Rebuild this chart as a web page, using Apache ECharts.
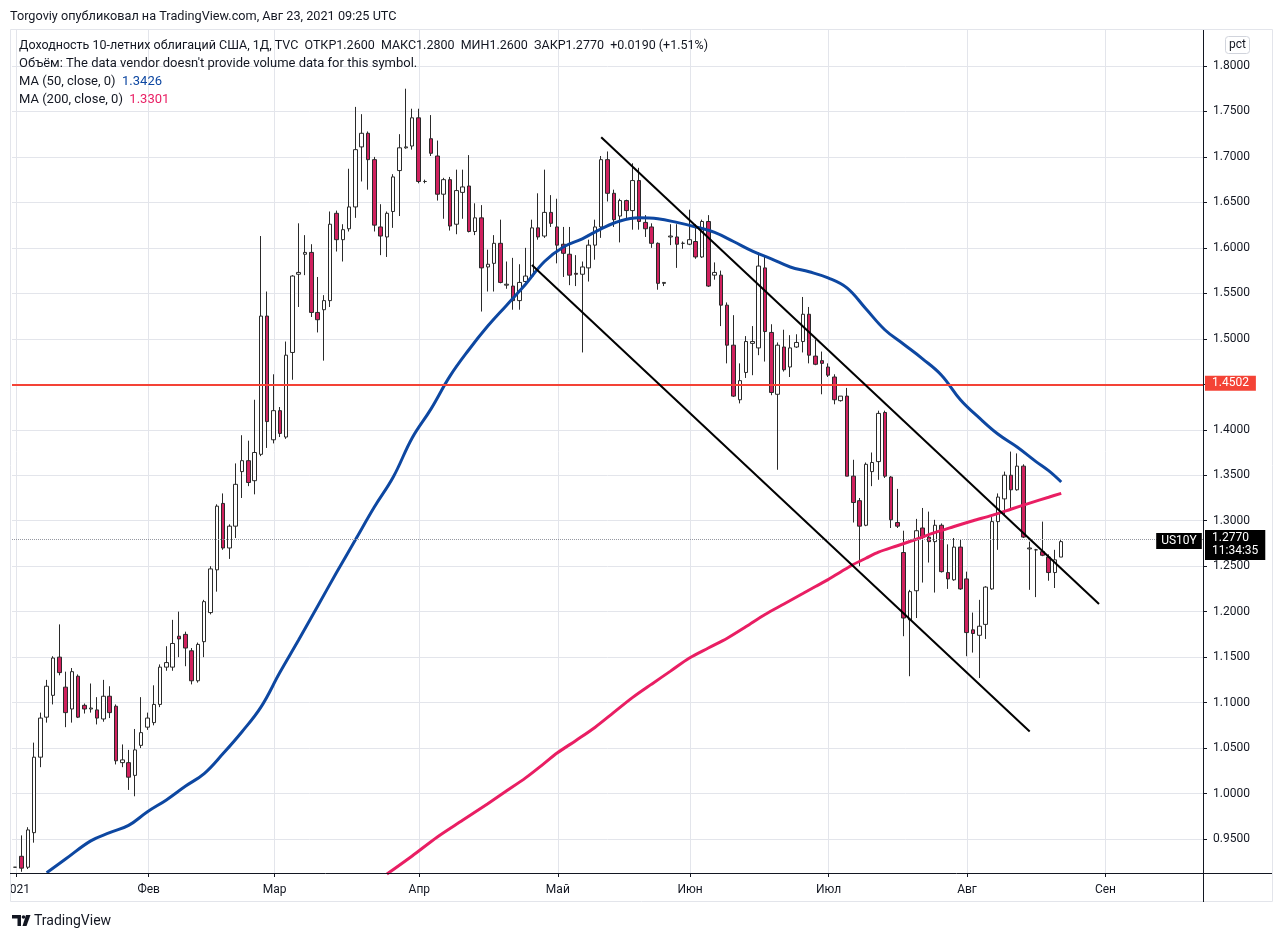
<!DOCTYPE html>
<html><head><meta charset="utf-8">
<script src="https://cdn.jsdelivr.net/npm/echarts@6/dist/echarts.min.js"></script>
<style>html,body{margin:0;padding:0;background:#fff}#c{width:1280px;height:940px}</style>
</head><body><div id="c"></div>
<script>
// ---- DATA ----
// daily candles from 2021-01-01 (weekdays): [open, high, low, close]
const candles = [
[0.919,0.919,0.919,0.919],[0.931,0.954,0.914,0.918],[0.919,0.963,0.917,0.960],[0.957,1.056,0.946,1.040],
[1.040,1.089,1.029,1.083],[1.084,1.125,1.078,1.118],[1.108,1.151,1.098,1.149],[1.150,1.186,1.130,1.133],
[1.117,1.134,1.073,1.089],[1.093,1.138,1.078,1.134],[1.129,1.131,1.083,1.084],[1.097,1.099,1.088,1.093],
[1.093,1.121,1.089,1.094],[1.092,1.106,1.076,1.083],[1.082,1.125,1.079,1.107],[1.107,1.118,1.083,1.089],
[1.096,1.098,1.032,1.036],[1.034,1.054,1.029,1.037],[1.034,1.048,1.004,1.018],[1.020,1.071,0.997,1.048],
[1.053,1.106,1.050,1.067],
[1.073,1.089,1.070,1.083],[1.078,1.119,1.075,1.098],[1.098,1.142,1.095,1.139],[1.139,1.162,1.135,1.144],
[1.139,1.191,1.135,1.165],[1.173,1.200,1.150,1.170],[1.175,1.178,1.140,1.160],[1.157,1.160,1.120,1.124],
[1.124,1.166,1.122,1.164],[1.167,1.213,1.150,1.211],[1.199,1.250,1.197,1.247],[1.246,1.318,1.222,1.316],
[1.319,1.330,1.268,1.270],[1.270,1.296,1.258,1.294],[1.294,1.363,1.281,1.340],[1.354,1.394,1.325,1.366],
[1.366,1.388,1.338,1.342],[1.344,1.433,1.329,1.375],[1.373,1.613,1.371,1.525],[1.525,1.552,1.380,1.409],
[1.389,1.461,1.385,1.421],[1.421,1.425,1.392,1.396],[1.392,1.497,1.390,1.482],[1.485,1.570,1.455,1.569],
[1.571,1.627,1.535,1.573],[1.593,1.614,1.570,1.595],[1.595,1.604,1.524,1.529],[1.529,1.568,1.507,1.521],
[1.532,1.548,1.476,1.542],[1.542,1.640,1.535,1.626],[1.638,1.641,1.596,1.609],[1.609,1.626,1.585,1.620],
[1.621,1.687,1.618,1.645],[1.645,1.755,1.633,1.708],[1.711,1.747,1.673,1.726],[1.726,1.728,1.664,1.697],
[1.697,1.700,1.618,1.625],[1.623,1.648,1.592,1.613],[1.612,1.640,1.590,1.638],[1.640,1.681,1.622,1.678],
[1.685,1.725,1.635,1.710],[1.710,1.775,1.709,1.711],[1.712,1.753,1.708,1.743],
[1.743,1.753,1.671,1.673],[1.673,1.675,1.671,1.673],[1.720,1.746,1.701,1.704],[1.701,1.718,1.652,1.659],
[1.659,1.677,1.632,1.675],[1.675,1.678,1.619,1.624],[1.626,1.686,1.615,1.663],[1.661,1.686,1.632,1.667],
[1.668,1.702,1.617,1.618],[1.618,1.649,1.614,1.633],[1.633,1.647,1.530,1.578],[1.579,1.598,1.552,1.582],
[1.583,1.614,1.552,1.605],[1.605,1.631,1.561,1.562],[1.559,1.585,1.555,1.560],[1.558,1.589,1.532,1.542],
[1.542,1.582,1.532,1.562],[1.563,1.600,1.558,1.569],[1.569,1.631,1.567,1.622],[1.622,1.660,1.609,1.612],
[1.613,1.686,1.611,1.639],[1.639,1.658,1.623,1.627],
[1.623,1.654,1.583,1.603],[1.604,1.623,1.568,1.594],[1.593,1.623,1.559,1.570],[1.572,1.592,1.558,1.571],
[1.571,1.585,1.485,1.579],[1.578,1.609,1.563,1.603],[1.603,1.631,1.587,1.623],[1.623,1.701,1.611,1.697],
[1.697,1.706,1.651,1.660],[1.660,1.664,1.623,1.631],[1.635,1.654,1.606,1.652],[1.652,1.653,1.631,1.641],
[1.641,1.693,1.620,1.674],[1.674,1.688,1.620,1.629],[1.628,1.636,1.612,1.621],[1.623,1.627,1.600,1.605],
[1.605,1.606,1.554,1.561],[1.561,1.562,1.558,1.562],[1.612,1.626,1.603,1.613],[1.612,1.626,1.578,1.604],
[1.605,1.607,1.599,1.605],
[1.604,1.642,1.603,1.609],[1.607,1.626,1.588,1.590],[1.590,1.631,1.589,1.629],[1.629,1.636,1.557,1.558],
[1.570,1.584,1.565,1.573],[1.570,1.575,1.514,1.537],[1.537,1.540,1.473,1.493],[1.493,1.526,1.436,1.437],
[1.433,1.473,1.429,1.454],[1.463,1.503,1.457,1.497],[1.495,1.514,1.460,1.497],[1.490,1.595,1.482,1.580],
[1.578,1.592,1.475,1.508],[1.507,1.516,1.438,1.441],[1.439,1.496,1.356,1.493],[1.491,1.510,1.464,1.466],
[1.469,1.504,1.458,1.490],[1.491,1.505,1.490,1.496],[1.497,1.546,1.485,1.527],[1.527,1.535,1.473,1.482],
[1.481,1.499,1.471,1.472],[1.476,1.486,1.439,1.473],
[1.469,1.473,1.458,1.460],[1.458,1.461,1.428,1.433],[1.432,1.437,1.431,1.437],[1.437,1.446,1.349,1.349],
[1.349,1.367,1.298,1.320],[1.322,1.325,1.250,1.294],[1.295,1.364,1.294,1.362],[1.354,1.375,1.338,1.364],
[1.365,1.421,1.345,1.418],[1.419,1.421,1.347,1.349],[1.348,1.349,1.292,1.301],[1.298,1.335,1.292,1.294],
[1.265,1.289,1.173,1.193],[1.191,1.224,1.129,1.222],[1.223,1.302,1.193,1.289],[1.292,1.314,1.232,1.282],
[1.282,1.310,1.254,1.277],[1.277,1.301,1.221,1.295],[1.295,1.297,1.243,1.244],[1.243,1.274,1.225,1.236],
[1.235,1.281,1.234,1.271],[1.271,1.279,1.224,1.225],
[1.236,1.244,1.151,1.177],[1.180,1.199,1.155,1.176],[1.174,1.213,1.127,1.184],[1.186,1.228,1.170,1.227],
[1.225,1.304,1.224,1.299],[1.299,1.330,1.268,1.326],[1.324,1.354,1.307,1.350],[1.350,1.376,1.313,1.334],
[1.334,1.374,1.333,1.360],[1.360,1.362,1.281,1.282],[1.269,1.277,1.224,1.270],[1.268,1.269,1.216,1.268],
[1.266,1.299,1.261,1.262],[1.260,1.263,1.234,1.243],[1.243,1.268,1.226,1.257],[1.260,1.280,1.260,1.277]
];
// moving averages: [bar index, value]
const ma50Pts = [[5,0.913],[8,0.928],[12,0.948],[15,0.957],[18,0.965],[21,0.980],[24,0.993],[27,1.008],
[30,1.022],[33,1.044],[36,1.068],[39,1.095],[42,1.133],[45,1.169],[48,1.206],[51,1.243],[54,1.279],
[57,1.315],[60,1.348],[63,1.391],[66,1.423],[69,1.459],[72,1.488],[75,1.514],[78,1.537],[81,1.560],
[84,1.585],[87,1.601],[90,1.610],[93,1.621],[96,1.6295],[99,1.633],[102,1.632],[105,1.628],[108,1.623],
[111,1.617],[114,1.607],[117,1.5965],[120,1.588],[123,1.579],[126,1.5737],[129,1.567],[132,1.556],
[135,1.533],[138,1.510],[141,1.494],[144,1.478],[147,1.460],[150,1.433],[153,1.413],[156,1.395],
[159,1.381],[162,1.365],[164,1.355],[166,1.3426]];
const ma200Pts = [[59,0.9115],[63,0.9314],[67,0.9523],[71,0.9706],[75,0.9889],[78,1.003],[81,1.0172],
[84,1.0334],[86,1.0445],[89,1.0584],[92,1.0727],[95,1.0892],[98,1.1057],[101,1.1203],[104,1.1346],
[107,1.149],[110,1.160],[113,1.1708],[116,1.1836],[119,1.1969],[122,1.2084],[125,1.2199],[127,1.2276],
[129,1.2352],[131,1.2437],[133,1.2519],[135,1.2587],[137,1.2654],[140,1.2725],[143,1.2796],[146,1.2871],
[149,1.2936],[152,1.3000],[155,1.3059],[158,1.3126],[161,1.3194],[164,1.3258],[166,1.3301]];
const channelUpper = [[93,1.7217],[172,1.2084]];
const channelLower = [[82,1.5812],[161,1.0683]];
const levelLine = 1.4502;
const lastClose = 1.2770;
const ma50Last = 1.3426, ma200Last = 1.3301;
const monthLabels = ['2021','Фев','Мар','Апр','Май','Июн','Июл','Авг','Сен','Окт','Ноя','Дек'];
const yMin = 0.90, yMax = 1.85, yStep = 0.05;

// ---- categories: weekdays from 2021-01-01 ----
const dates = [];
(function(){const d=new Date(Date.UTC(2021,0,1));while(dates.length<189){const w=d.getUTCDay();if(w!==0&&w!==6)dates.push(d.toISOString().slice(0,10));d.setUTCDate(d.getUTCDate()+1);}})();
const monthStart = new Set();
dates.forEach((s,i)=>{if(i===0||s.slice(5,7)!==dates[i-1].slice(5,7))monthStart.add(i);});
const isMonth = (i)=>monthStart.has(i);

const FONT = 'Roboto, "Noto Sans", sans-serif';
const TXT = '#131722';
const GRID = '#e3e5eb';
const BLUE = '#0d47a1', PINK = '#e91e63', RED = '#f44336', DOWN = '#d0215e';

const chart = echarts.init(document.getElementById('c'), null, {renderer:'canvas'});
const boxLabel = (bg, val, off) => ({show:true, position:'end', distance:2, formatter:()=>val.toFixed(4),
  backgroundColor:bg, color:'#fff', padding:[2,7,1,7], fontSize:12, fontFamily:FONT, offset:[0,off]});

chart.setOption({
  animation:false,
  textStyle:{fontFamily:FONT},
  grid:[
    {left:12, right:77, top:20.5, bottom:55.5},
    {left:15.15, right:80.1, top:30, bottom:67}
  ],
  xAxis:[
    {gridIndex:0, type:'category', data:dates, boundaryGap:true, show:false},
    {gridIndex:1, type:'category', data:dates, boundaryGap:false,
     axisLine:{show:false},
     axisTick:{show:true, interval:isMonth, length:4, lineStyle:{color:TXT}},
     axisLabel:{interval:isMonth, margin:11, color:TXT, fontSize:12, fontFamily:FONT,
       formatter:(v)=>monthLabels[parseInt(v.slice(5,7),10)-1]},
     splitLine:{show:true, interval:isMonth, lineStyle:{color:GRID, width:1}}}
  ],
  yAxis:[
    {gridIndex:0, type:'value', position:'right', min:yMin, max:yMax, interval:yStep, scale:true,
     axisLine:{show:false},
     axisTick:{show:true, length:4, lineStyle:{color:TXT}},
     axisLabel:{showMinLabel:false, showMaxLabel:false, margin:10, color:TXT, fontSize:12, fontFamily:FONT,
       formatter:(v)=>v.toFixed(4)},
     splitLine:{show:true, showMinLine:false, showMaxLine:false, lineStyle:{color:GRID, width:1}}},
    {gridIndex:1, type:'value', min:0, max:1, show:false}
  ],
  series:[
    {type:'candlestick', xAxisIndex:0, yAxisIndex:0, barWidth:4,
     data:candles.map(c=>[c[0],c[3],c[2],c[1]]),
     itemStyle:{color:'#ffffff', color0:DOWN, borderColor:'#2a2a2a', borderColor0:'#2a2a2a', borderWidth:1},
     markLine:{silent:true, symbol:['none','none'], animation:false,
       data:[
         {yAxis:levelLine, lineStyle:{color:RED, width:2, type:'solid'}, label:boxLabel(RED, levelLine, -1)},
         {yAxis:lastClose, lineStyle:{color:'#9598a1', width:1, type:'dotted'},
          label:{show:true, position:'end', distance:2, formatter:()=>lastClose.toFixed(4)+'\n11:34:35',
            backgroundColor:'#000', color:'#fff', padding:[2,7,2,7], lineHeight:13, fontSize:12, fontFamily:FONT, offset:[0,6]}},
         [{coord:channelUpper[0]},{coord:channelUpper[1], lineStyle:{color:'#000', width:2, type:'solid'}, label:{show:false}}],
         [{coord:channelLower[0]},{coord:channelLower[1], lineStyle:{color:'#000', width:2, type:'solid'}, label:{show:false}}]
       ]}},
    {type:'line', name:'MA50', xAxisIndex:0, yAxisIndex:0, data:ma50Pts, smooth:0.4, showSymbol:false,
     lineStyle:{color:BLUE, width:3}, z:3,
     markLine:{silent:true, symbol:['none','none'], lineStyle:{opacity:0},
       data:[{yAxis:ma50Last, label:boxLabel(BLUE, ma50Last, -6)}]}},
    {type:'line', name:'MA200', xAxisIndex:0, yAxisIndex:0, data:ma200Pts, smooth:0.3, showSymbol:false,
     lineStyle:{color:PINK, width:3}, z:3,
     markLine:{silent:true, symbol:['none','none'], lineStyle:{opacity:0},
       data:[{yAxis:ma200Last, label:boxLabel(PINK, ma200Last, -1)}]}},
    {type:'line', xAxisIndex:1, yAxisIndex:1, data:[]}
  ],
  graphic:[
    {type:'rect', z:100, shape:{x:10.5, y:29.5, width:1262, height:872}, style:{fill:'none', stroke:GRID, lineWidth:1}},
    {type:'line', z:101, shape:{x1:1203.5, y1:30, x2:1203.5, y2:902}, style:{stroke:TXT, lineWidth:1}},
    {type:'line', z:101, shape:{x1:10, y1:873.5, x2:1272, y2:873.5}, style:{stroke:TXT, lineWidth:1}},
    {type:'rect', z:102, shape:{x:0, y:876, width:10, height:24}, style:{fill:'#fff'}},
    {type:'text', z:102, x:10, y:17, style:{text:'Torgoviy опубликовал на TradingView.com, Авг 23, 2021 09:25 UTC',
      font:'12.7px '+FONT, fill:TXT, verticalAlign:'middle'}},
    {type:'text', z:102, x:19, y:46, style:{text:'Доходность 10-летних облигаций США, 1Д, TVC  ОТКР1.2600  МАКС1.2800  МИН1.2600  ЗАКР1.2770  +0.0190 (+1.51%)',
      font:'12.5px '+FONT, fill:TXT, verticalAlign:'middle'}},
    {type:'text', z:102, x:19, y:64, style:{text:"Объём: The data vendor doesn't provide volume data for this symbol.",
      font:'13px '+FONT, fill:TXT, verticalAlign:'middle'}},
    {type:'text', z:102, x:19, y:82, style:{text:'{a|MA (50, close, 0)}  {b|1.3426}', font:'13px '+FONT, fill:TXT, verticalAlign:'middle',
      rich:{a:{fill:TXT, font:'13px '+FONT}, b:{fill:BLUE, font:'13px '+FONT}}}},
    {type:'text', z:102, x:19, y:100, style:{text:'{a|MA (200, close, 0)}  {b|1.3301}', font:'13px '+FONT, fill:TXT, verticalAlign:'middle',
      rich:{a:{fill:TXT, font:'13px '+FONT}, b:{fill:PINK, font:'13px '+FONT}}}},
    {type:'rect', z:102, shape:{x:1225.5, y:36.5, width:24, height:17, r:3}, style:{fill:'#fff', stroke:'#d1d4dc', lineWidth:1}},
    {type:'text', z:103, x:1237.5, y:45, style:{text:'pct', font:'12px '+FONT, fill:TXT, align:'center', verticalAlign:'middle'}},
    {type:'text', z:103, x:1179, y:541, style:{text:'US10Y', font:'12px '+FONT, fill:'#fff', backgroundColor:'#000',
      padding:[2,5,2,5], align:'center', verticalAlign:'middle'}},
    {type:'rect', z:102, shape:{x:12, y:915, width:9, height:3.5}, style:{fill:'#131722'}},
    {type:'rect', z:102, shape:{x:17.5, y:915, width:3.5, height:11}, style:{fill:'#131722'}},
    {type:'circle', z:102, shape:{cx:23.5, cy:917, r:1.8}, style:{fill:'#131722'}},
    {type:'polygon', z:102, shape:{points:[[26,915],[30.5,915],[26.5,926],[22.5,926]]}, style:{fill:'#131722'}},
    {type:'text', z:102, x:34, y:921, style:{text:'TradingView', font:'14px '+FONT, fill:TXT, verticalAlign:'middle'}}
  ]
});
</script></body></html>
